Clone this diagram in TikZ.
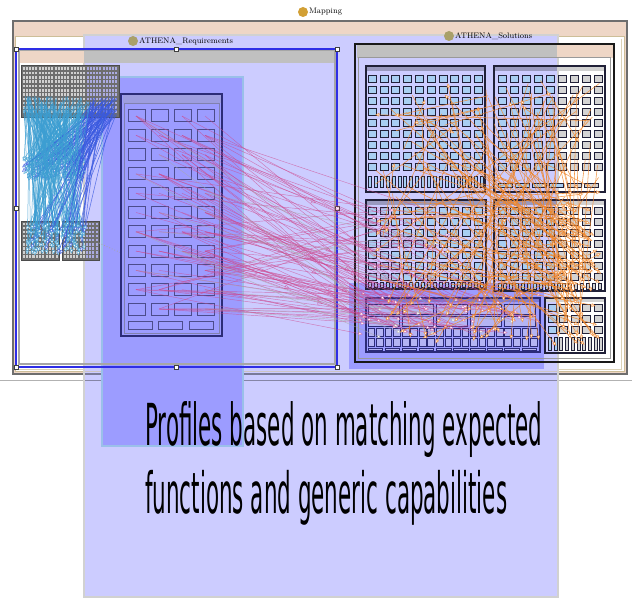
\documentclass[tikz,border=0pt]{standalone}
\usepackage{fontspec}
\usepackage{graphicx}
\newfontfamily\dejavu{DejaVu Sans}
\usetikzlibrary{arrows.meta,decorations.markings}
\definecolor{peach}{HTML}{EED6C6}
\definecolor{lav}{HTML}{CCCCFF}
\definecolor{lavdark}{HTML}{9C9CFF}
\definecolor{selblue}{HTML}{2E2EE6}
\definecolor{hdrgray}{HTML}{C0C0C0}
\definecolor{cellblue}{HTML}{A8CEF2}
\definecolor{cellgray}{HTML}{D4D4D4}
\definecolor{celledge}{HTML}{202038}
\definecolor{gold}{HTML}{D2A035}
\definecolor{olive}{HTML}{A9A06A}
\definecolor{cyanl}{HTML}{3C9ED2}
\definecolor{bluel}{HTML}{3A5AE0}
\definecolor{magl}{HTML}{CC4A90}
\definecolor{grayl}{HTML}{A8A8A8}
\definecolor{orl}{HTML}{F0862A}
\definecolor{navy}{HTML}{2C2C78}
\definecolor{framegray}{HTML}{6E6E6E}
\definecolor{tan}{HTML}{CDBE98}
\definecolor{gridbg}{HTML}{6E6E6E}
\definecolor{gridcell}{HTML}{D0D0D0}
\definecolor{gridcellb}{HTML}{ABABE0}
\definecolor{dcell}{HTML}{B4B4F4}

\newcommand\solcell[4]{%
  \pgfmathtruncatemacro\insidelav{(#1)<557?1:0}%
  \ifnum\insidelav=1 \def\cellfill{cellblue}\else\def\cellfill{cellgray}\fi
  \draw[solcellst,fill=\cellfill] (#1,#2) rectangle ++(#3,#4);}
\newcommand\gridcellat[4]{%
  \pgfmathtruncatemacro\insidelav{(#1)<84?1:0}%
  \ifnum\insidelav=1 \def\cellfill{gridcell}\else\def\cellfill{gridcellb}\fi
  \fill[\cellfill] (#1,#2) rectangle ++(#3,#4);}

\tikzset{
  solcellst/.style={draw=celledge,line width=0.9pt},
  boxst/.style={draw=celledge,line width=1.2pt},
  reqcell/.style={draw=navy!85,line width=1pt,fill=lavdark},
  dcellst/.style={draw=navy,line width=0.8pt,fill=dcell},
  handle/.style={draw=black!75,fill=white,line width=0.6pt,minimum size=4pt,inner sep=0pt},
  lbl/.style={font=\fontsize{8}{9}\selectfont,inner sep=0pt},
  tipw/.style={-{Triangle[length=4pt,width=3.5pt,fill=white]}},
  cyanst/.style={draw=cyanl,line width=0.5pt,draw opacity=0.85,tipw},
  bluest/.style={draw=bluel,line width=0.5pt,draw opacity=0.85,tipw},
  magst/.style={draw=magl,line width=0.45pt,draw opacity=0.65,tipw},
  magmid/.style={draw=magl,line width=0.45pt,draw opacity=0.65,
    postaction={decorate},
    decoration={markings,mark=at position 0.62 with {\arrow{Triangle[length=5pt,width=4.5pt,open]}}}},
  grayst/.style={draw=grayl,line width=0.45pt,draw opacity=0.7,tipw},
  orst/.style={draw=orl,line width=0.55pt,draw opacity=0.85,tipw},
}

\begin{document}
\begin{tikzpicture}[x=1pt,y=-1pt]
\useasboundingbox (0,0) rectangle (632,599);
\fill[white] (0,0) rectangle (632,599);

% outer frame
\draw[framegray,line width=1.5pt,fill=peach] (13,21) rectangle (627,374);
\draw[tan,line width=1pt,fill=white] (15.5,36.5) rectangle (624.5,371.5);
\draw[tan!70,line width=0.8pt] (621.5,39) -- (621.5,369) -- (18,369);
\draw[black!30,line width=1pt] (0,380.5) -- (632,380.5);

% big lavender overlay
\fill[lav] (84,35) rectangle (558,597);
\draw[black!18,line width=2pt] (84,35) rectangle (558,597);
\draw[black!35!lav,line width=1pt] (85,380.5) -- (557,380.5);
\draw[black!40!lav,line width=1.5pt] (85,374) -- (557,374);
\draw[tan!60!lav,line width=1pt] (85,371.5) -- (557,371.5);

% darker overlays
\fill[lavdark] (102,77) rectangle (243,446);
\draw[cyan!25!lav,line width=1.5pt] (102,77) rectangle (243,446);
\fill[lavdark] (349,283) rectangle (544,369);

% ===== ATHENA_Requirements container =====
\fill[peach] (19,50) rectangle (84,63);
\fill[hdrgray] (84,50) rectangle (335,63);
\draw[black!35,line width=1.5pt] (19,50) rectangle (335,364);
\draw[selblue,line width=1.5pt] (16,49) rectangle (337,367);
\node[handle] (h1) at (16,49) {};
\node[handle] (h2) at (176,49) {};
\node[handle] (h3) at (337,49) {};
\node[handle] (h4) at (16,208) {};
\node[handle] (h5) at (337,208) {};
\node[handle] (h6) at (16,367) {};
\node[handle] (h7) at (176,367) {};
\node[handle] (h8) at (337,367) {};

% top-left dense grid
\draw[fill=gridbg,draw=black!70,line width=1pt] (21,66) rectangle (119,118);
\foreach \i in {0,...,29}{
  \foreach \j in {0,...,10}{
    \pgfmathsetmacro\gx{22.5+\i*3.2}
    \pgfmathsetmacro\gy{67.5+\j*4.3}
    \gridcellat{\gx}{\gy}{2.1}{2.6}
  }
}
% bottom-left grids
\draw[fill=gridbg,draw=black!70,line width=1pt] (21,221) rectangle (59,260);
\draw[fill=gridbg,draw=black!70,line width=1pt] (62,221) rectangle (99,260);
\foreach \i in {0,...,10}{
  \foreach \j in {0,...,8}{
    \pgfmathsetmacro\gx{22.5+\i*3.3}
    \pgfmathsetmacro\gy{222.5+\j*4.1}
    \gridcellat{\gx}{\gy}{2.1}{2.5}
    \pgfmathsetmacro\hx{63.5+\i*3.2}
    \gridcellat{\hx}{\gy}{2.1}{2.5}
  }
}
\draw[black!35,dotted,line width=0.8pt] (99,243) -- (128,256);

% requirements table
\draw[navy,line width=1.5pt,fill=lavdark] (121,94) rectangle (222,336);
\fill[black!15!lavdark!80!white] (122.5,95.5) rectangle (220.5,103);
\draw[navy!60,line width=1pt] (124,104) rectangle (219,333);
\foreach \i in {0,...,3}{
  \foreach \j in {0,...,10}{
    \pgfmathsetmacro\cx{128+\i*23}
    \pgfmathsetmacro\cy{110+\j*19.3}
    \draw[reqcell] (\cx,\cy) rectangle ++(17,12);
  }
}
\draw[reqcell] (128,321) rectangle ++(24,8);
\draw[reqcell] (158,321) rectangle ++(24,8);
\draw[reqcell] (189,321) rectangle ++(24,8);

% ===== ATHENA_Solutions container =====
\fill[hdrgray] (356.5,45.5) rectangle (557,58);
\fill[peach] (557,45.5) rectangle (612.5,58);
\draw[black!90,line width=1.6pt] (355,44) rectangle (614,362);
\draw[black!40,line width=1pt] (358.5,58) rectangle (610.5,358.5);

% box A
\draw[boxst] (366,66) rectangle (485,192);
\fill[black!25!lav] (366.6,66.6) rectangle (484.4,71);
\foreach \i in {0,...,9}{
  \foreach \j in {0,...,8}{
    \pgfmathsetmacro\cx{368.3+\i*11.78}
    \pgfmathsetmacro\cy{75+\j*11}
    \solcell{\cx}{\cy}{8}{7}
  }
}
\foreach \k in {0,...,19}{
  \pgfmathsetmacro\cx{368.5+\k*5.9}
  \solcell{\cx}{176}{3}{11}
}
% box B
\draw[boxst] (494,66) rectangle (605,192);
\fill[black!25!lav] (494.6,66.6) rectangle (557,71);
\fill[black!18] (557,66.6) rectangle (604.4,71);
\foreach \i in {0,...,8}{
  \foreach \j in {0,...,8}{
    \pgfmathsetmacro\cx{498+\i*12}
    \pgfmathsetmacro\cy{75+\j*11}
    \solcell{\cx}{\cy}{8}{7}
  }
}
\foreach \k in {0,...,5}{
  \pgfmathsetmacro\cx{498+\k*17.3}
  \solcell{\cx}{183}{14}{4}
}
% box C
\draw[boxst] (366,200) rectangle (486,289);
\fill[black!25!lav] (366.6,200.6) rectangle (485.4,205);
\foreach \i in {0,...,9}{
  \foreach \j in {0,...,6}{
    \pgfmathsetmacro\cx{368.3+\i*11.78}
    \pgfmathsetmacro\cy{207+\j*11}
    \solcell{\cx}{\cy}{8}{7}
  }
}
\foreach \k in {0,...,19}{
  \pgfmathsetmacro\cx{368.5+\k*5.9}
  \solcell{\cx}{282}{3}{5}
}
% box E
\draw[boxst] (494,200) rectangle (605,291);
\fill[black!25!lav] (494.6,200.6) rectangle (557,205);
\fill[black!18] (557,200.6) rectangle (604.4,205);
\foreach \i in {0,...,8}{
  \foreach \j in {0,...,6}{
    \pgfmathsetmacro\cx{498+\i*12}
    \pgfmathsetmacro\cy{207+\j*11}
    \solcell{\cx}{\cy}{8}{7}
  }
}
\foreach \k in {0,...,17}{
  \pgfmathsetmacro\cx{498+\k*5.9}
  \solcell{\cx}{283}{3}{6}
}
% box D
\draw[draw=navy,line width=1.2pt] (366,298) rectangle (540,352);
\fill[navy!30!lavdark] (366.6,298.6) rectangle (539.4,302);
\foreach \k in {0,...,4}{
  \pgfmathsetmacro\cx{368+\k*34}
  \draw[dcellst] (\cx,304) rectangle ++(31,10);
  \draw[dcellst] (\cx,316) rectangle ++(31,10);
}
\foreach \k in {0,...,19}{
  \pgfmathsetmacro\cx{368+\k*8.55}
  \draw[dcellst] (\cx,328.5) rectangle ++(6.7,7.5);
  \draw[dcellst] (\cx,338.5) rectangle ++(6.7,7.5);
}
\foreach \k in {0,...,9}{
  \pgfmathsetmacro\cx{368+\k*17.1}
  \draw[dcellst] (\cx,348) rectangle ++(14.5,2.5);
}
% box F
\draw[boxst] (545,298) rectangle (605,353);
\fill[black!18] (545.6,298.6) rectangle (604.4,302);
\foreach \k in {0,...,4}{
  \foreach \j in {0,...,2}{
    \pgfmathsetmacro\cx{548+\k*11.5}
    \pgfmathsetmacro\cy{304+\j*11}
    \solcell{\cx}{\cy}{8}{7}
  }
}
\foreach \k in {0,...,9}{
  \pgfmathsetmacro\cx{548.5+\k*5.7}
  \solcell{\cx}{337}{3}{13}
}

% ===== labels =====
\fill[gold] (303,12) circle (5pt);
\node[lbl,anchor=west] (mapping) at (309,12) {Mapping};
\fill[olive] (133,41) circle (5pt);
\node[lbl,anchor=west] (reqlbl) at (139,41) {ATHENA\_Requirements};
\fill[olive] (449,36) circle (5pt);
\node[lbl,anchor=west] (sollbl) at (455,36) {ATHENA\_Solutions};

% ===== connectors =====
\pgfmathsetseed{4242}
% cyan: top grid -> cluster
\foreach \k in {1,...,150}{
  \pgfmathsetmacro\xa{23+rnd*94}
  \pgfmathsetmacro\ya{96+rnd*21}
  \pgfmathsetmacro\xb{22+rnd*64}
  \pgfmathsetmacro\yb{160+rnd*22}
  \pgfmathtruncatemacro\bl{\xa>90?1:0}
  \ifnum\bl=1 \draw[bluest] (\xa,\ya) -- (\xb,\yb);
  \else \draw[cyanst] (\xa,\ya) -- (\xb,\yb);\fi
}
% cyan: top grid -> bottom grids
\foreach \k in {1,...,130}{
  \pgfmathsetmacro\xa{23+rnd*94}
  \pgfmathsetmacro\ya{96+rnd*21}
  \pgfmathsetmacro\xb{25+rnd*62}
  \pgfmathsetmacro\yb{226+rnd*30}
  \pgfmathtruncatemacro\bl{\xa>90?1:0}
  \ifnum\bl=1 \draw[bluest] (\xa,\ya) -- (\xb,\yb);
  \else \draw[cyanst] (\xa,\ya) -- (\xb,\yb);\fi
}
% magenta: requirements table -> solutions
\foreach \k in {1,...,110}{
  \pgfmathtruncatemacro\ci{min(3,int(rnd*4))}
  \pgfmathtruncatemacro\rj{min(10,int(rnd*11))}
  \pgfmathsetmacro\xa{136+\ci*23}
  \pgfmathsetmacro\ya{116+\rj*19.3}
  \pgfmathsetmacro\p{rnd}
  \pgfmathsetmacro\xb{\p<0.8 ? 362+rnd*182 : 372+rnd*108}
  \pgfmathsetmacro\yb{\p<0.8 ? 294+rnd*44 : 208+rnd*76}
  \pgfmathsetmacro\q{rnd}
  \pgfmathtruncatemacro\kind{\q<0.15 ? 1 : (\q<0.35 ? 2 : 0)}
  \ifcase\kind \draw[magst] (\xa,\ya) -- (\xb,\yb);
  \or \draw[grayst] (\xa,\ya) -- (\xb,\yb);
  \or \draw[magmid] (\xa,\ya) -- (\xb,\yb);\fi
}
% orange: within solutions
\foreach \k in {1,...,160}{
  \pgfmathsetmacro\xa{372+rnd*228}
  \pgfmathsetmacro\ya{78+rnd*208}
  \pgfmathsetmacro\p{rnd}
  \pgfmathsetmacro\xb{\p<0.5 ? 556+rnd*46 : (\p<0.8 ? 385+rnd*155 : 372+rnd*228)}
  \pgfmathsetmacro\yb{\p<0.5 ? 188+rnd*158 : (\p<0.8 ? 300+rnd*45 : 78+rnd*208)}
  \draw[orst] (\xa,\ya) -- (\xb,\yb);
}

% ===== caption =====
\node[anchor=north west,inner sep=0pt] (cap1) at (145,401)
  {\resizebox*{397pt}{56pt}{\dejavu Profiles based on matching expected}};
\node[anchor=north west,inner sep=0pt] (cap2) at (145,470)
  {\resizebox*{362pt}{55pt}{\dejavu functions and generic capabilities}};
\end{tikzpicture}
\end{document}
